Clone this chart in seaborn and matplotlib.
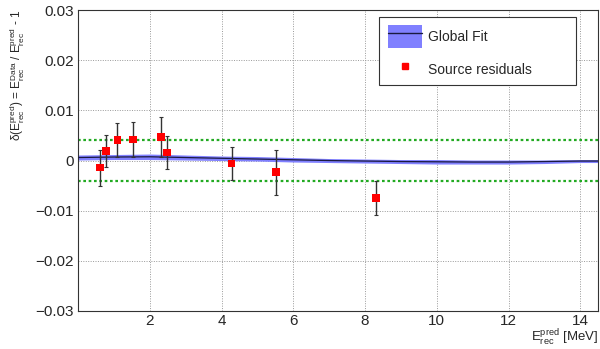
import numpy as np
import pandas as pd
import seaborn as sns
import matplotlib
matplotlib.use("Agg")
import matplotlib.pyplot as plt
from matplotlib.patches import Patch, Rectangle
from matplotlib.lines import Line2D
from matplotlib.ticker import MultipleLocator, FuncFormatter

# source residual points
src_e = [0.61, 0.79, 1.10, 1.54, 2.32, 2.49, 4.28, 5.51, 8.30]
src_res = [-0.0014, 0.0019, 0.0041, 0.0042, 0.0047, 0.0016, -0.0006, -0.0023, -0.0075]
src_err = [0.0036, 0.0032, 0.0034, 0.0035, 0.0039, 0.0032, 0.0033, 0.0045, 0.0034]

# global fit curve and band
fit_e = [0, 1, 2, 3, 4, 5, 6, 7, 8, 9, 10, 11, 12, 13, 14, 14.5]
fit_val = [0.0006, 0.0007, 0.00075, 0.0006, 0.00045, 0.0003, 0.00015, 0.0, -0.0001,
           -0.0002, -0.00025, -0.0003, -0.0003, -0.0002, -0.0001, -0.0001]
fit_hi = [0.0011, 0.0012, 0.0013, 0.0011, 0.0009, 0.0008, 0.0006, 0.0004, 0.0003,
          0.0002, 0.0002, 0.0001, 0.0001, 0.0001, 0.0002, 0.0002]
fit_lo = [0.0001, 0.0002, 0.0002, 0.0001, 0.0, -0.0001, -0.0003, -0.0004, -0.0005,
          -0.0006, -0.0007, -0.0007, -0.0007, -0.0006, -0.0004, -0.0004]

limit = 0.004

sns.set_style("white")
plt.rcParams['font.family'] = ['Liberation Sans', 'DejaVu Sans']
plt.rcParams['mathtext.default'] = 'regular'

fig = plt.figure(figsize=(6.0, 3.49), dpi=100)
ax = fig.add_axes([0.13, 0.109, 0.867, 0.862])

band_col = '#8080ff'
ax.fill_between(fit_e, fit_lo, fit_hi, color=band_col, lw=0, zorder=2)
fit_df = pd.DataFrame({'e': fit_e, 'v': fit_val})
sns.lineplot(data=fit_df, x='e', y='v', color='#1a1a40', lw=0.9, ax=ax, zorder=3)

for y in (limit, -limit):
    ax.axhline(y, color='#22aa22', ls=(0, (1.2, 1.2)), lw=1.6, zorder=2)

ax.errorbar(src_e, src_res, yerr=src_err, fmt='none', ecolor='#333333',
            elinewidth=1.0, capsize=1.5, capthick=0.8, zorder=4)
src_df = pd.DataFrame({'e': src_e, 'r': src_res})
sns.scatterplot(data=src_df, x='e', y='r', marker='s', color='#ff0000', s=32,
                edgecolor='none', ax=ax, zorder=5)

ax.set_xlim(0, 14.5)
ax.set_ylim(-0.03, 0.03)
ax.xaxis.set_major_locator(MultipleLocator(2))
ax.xaxis.set_minor_locator(MultipleLocator(0.5))
ax.yaxis.set_major_locator(MultipleLocator(0.01))
ax.yaxis.set_minor_locator(MultipleLocator(0.002))
fmt = FuncFormatter(lambda v, p: f"{round(v, 4):g}".replace('-', '\u2212') if abs(v) > 1e-9 else "0")
ax.yaxis.set_major_formatter(fmt)
ax.xaxis.set_major_formatter(FuncFormatter(lambda v, p: "" if v == 0 else f"{v:g}"))

ax.tick_params(axis='y', which='major', direction='in', length=10, width=0.8, labelsize=11, pad=3)
ax.tick_params(axis='y', which='minor', direction='in', length=5, width=0.8)
ax.tick_params(axis='x', which='major', direction='in', length=6.5, width=0.8, labelsize=11, pad=2.5)
ax.tick_params(axis='x', which='minor', direction='in', length=3.5, width=0.8)
ax.grid(True, which='major', color='#999999', ls=(0, (1, 1.5)), lw=0.7)
for s in ax.spines.values():
    s.set_color('#333333')
    s.set_linewidth(0.8)

ax.set_xlabel('')
ax.set_ylabel(r'$\delta(E^{pred}_{rec})$ = $E^{Data}_{rec}$ / $E^{pred}_{rec}$ - 1',
              fontsize=8.5, loc='top')
ax.yaxis.set_label_coords(-0.098, 1.0)
fig.text(0.997, 0.002, r'$E^{pred}_{rec}$ [MeV]', ha='right', va='bottom', fontsize=9.5)

# legend box (fixed size like the original)
ax.add_patch(Rectangle((0.579, 0.751), 0.379, 0.226, transform=ax.transAxes,
                       facecolor='white', edgecolor='#333333', lw=0.8, zorder=6))
handles = [(Patch(facecolor=band_col, edgecolor='none'), Line2D([], [], color='#1a1a40', lw=1.0)),
           Line2D([], [], marker='s', color='#ff0000', ls='none', markersize=4)]
leg = ax.legend(handles, ['Global Fit', 'Source residuals'], loc='upper left',
                bbox_to_anchor=(0.591, 0.957), fontsize=10, frameon=False,
                handlelength=2.45, handleheight=2.1, labelspacing=0.8,
                borderpad=0.15, borderaxespad=0, handletextpad=0.5)
leg.set_zorder(7)

fig.savefig('out.png', dpi=100)
